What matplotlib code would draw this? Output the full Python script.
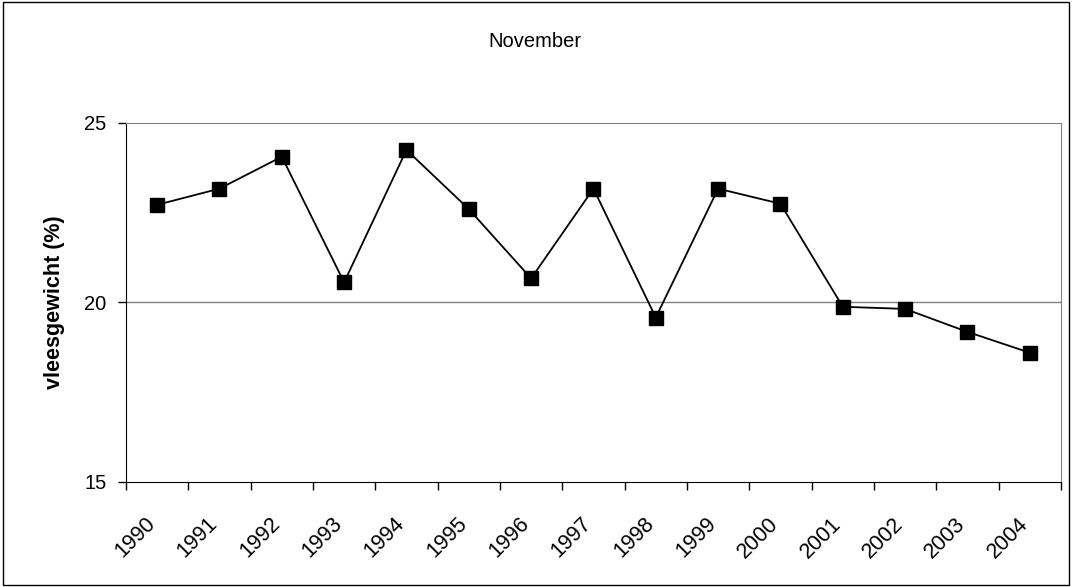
import numpy as np
import matplotlib.pyplot as plt
import matplotlib.transforms as mtransforms
from matplotlib.patches import Rectangle

plt.rcParams['font.family'] = ['Liberation Sans', 'DejaVu Sans']

years = [str(y) for y in range(1990, 2005)]
vleesgewicht = [22.72, 23.17, 24.06, 20.56, 24.25, 22.6, 20.67, 23.17,
                19.58, 23.17, 22.75, 19.88, 19.82, 19.18, 18.6]

fig = plt.figure(figsize=(10.72, 5.87), dpi=100)
ax = fig.add_axes([0.1175, 0.179, 0.8722, 0.6115])

x = np.arange(len(years))
ax.plot(x, vleesgewicht, color='black', linewidth=1.3, marker='s',
        markersize=10, markerfacecolor='black', markeredgecolor='black')

ax.set_xlim(-0.5, len(years) - 0.5)
ax.set_ylim(15, 25)
ax.set_yticks([15, 20, 25])
ax.axhline(20, color='#808080', linewidth=1.0, zorder=0)

# category labels in the middle, tick marks on the boundaries
ax.set_xticks(x)
ax.set_xticklabels(years, rotation=45, ha='right', va='center', rotation_mode='anchor')
ax.set_xticks(np.arange(-0.5, len(years), 1.0), minor=True)
ax.tick_params(axis='x', which='major', length=0, labelsize=15.5, pad=28)
ax.tick_params(axis='x', which='minor', length=6, width=1.0, color='black')
ax.tick_params(axis='y', length=6, width=1.0, labelsize=14.5, pad=8)

shift = mtransforms.ScaledTranslation(-0.05, 0, fig.dpi_scale_trans)
for lab in ax.get_xticklabels():
    lab.set_transform(lab.get_transform() + shift)

for side in ['top', 'right']:
    ax.spines[side].set_color('#808080')
for side in ['left', 'bottom']:
    ax.spines[side].set_color('black')

ax.set_ylabel('vleesgewicht (%)', fontsize=15.5, fontweight='bold', labelpad=14)
fig.text(0.499, 0.930, 'November', ha='center', va='center', fontsize=14.5)

fig.patches.append(Rectangle((0.003, 0.004), 0.994, 0.992, transform=fig.transFigure,
                             fill=False, edgecolor='black', linewidth=1.0))

fig.savefig('out.png', dpi=100)
